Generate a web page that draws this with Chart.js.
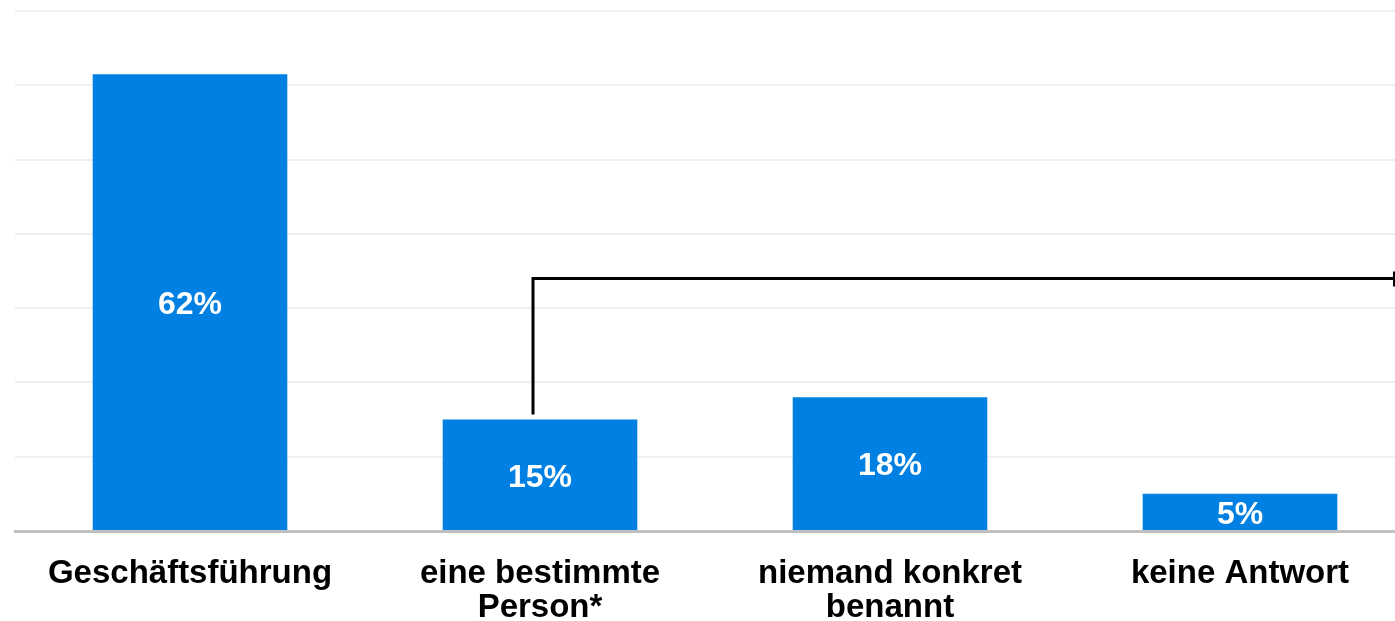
<!DOCTYPE html>
<html lang="de">
<head>
<meta charset="utf-8">
<title>Zuständigkeit</title>
<script src="https://cdn.jsdelivr.net/npm/chart.js@4.4.0/dist/chart.umd.min.js"></script>
<style>
    html, body { margin: 0; padding: 0; background: #fff; overflow: hidden; }
    #wrap { width: 1420px; height: 621px; position: relative; }
</style>
</head>
<body>
<div id="wrap"><canvas id="chart"></canvas></div>
<script>
// Daten
const categories = [['Geschäftsführung'], ['eine bestimmte', 'Person*'], ['niemand konkret', 'benannt'], ['keine Antwort']];
const shares = [61.5, 15, 18, 5];
const valueLabels = ['62%', '15%', '18%', '5%'];
const connectorLevel = 34;   // Höhe der Verbindungslinie (in %)

const BAR_COLOR = '#0080e2';
const FONT = '"Liberation Sans", Arial, sans-serif';

// Prozentwerte in die Balken schreiben
const valueLabelPlugin = {
    id: 'valueLabels',
    afterDatasetsDraw(chart) {
        const ctx = chart.ctx;
        const meta = chart.getDatasetMeta(0);
        ctx.save();
        ctx.fillStyle = '#fff';
        ctx.font = 'bold 32px ' + FONT;
        ctx.textAlign = 'center';
        ctx.textBaseline = 'middle';
        meta.data.forEach((bar, i) => {
            const mid = (bar.y + bar.base) / 2;
            ctx.fillText(valueLabels[i], bar.x, mid + 3);
        });
        ctx.restore();
    }
};

// Verbindungslinie vom zweiten Balken nach rechts
const connectorPlugin = {
    id: 'connector',
    afterDatasetsDraw(chart) {
        const ctx = chart.ctx;
        const bar = chart.getDatasetMeta(0).data[1];
        const y = chart.scales.y.getPixelForValue(connectorLevel);
        const x = bar.x - 7;
        const right = 1394;
        ctx.save();
        ctx.strokeStyle = '#000';
        ctx.lineWidth = 3;
        ctx.beginPath();
        ctx.moveTo(x, bar.y - 5);
        ctx.lineTo(x, y);
        ctx.lineTo(right, y);
        ctx.stroke();
        ctx.beginPath();
        ctx.lineWidth = 2;
        ctx.moveTo(right, y - 7);
        ctx.lineTo(right, y + 8);
        ctx.stroke();
        ctx.restore();
    }
};

new Chart(document.getElementById('chart'), {
    type: 'bar',
    data: {
        labels: categories,
        datasets: [{
            data: shares,
            backgroundColor: BAR_COLOR,
            borderWidth: 0,
            categoryPercentage: 1,
            barPercentage: 0.556
        }]
    },
    options: {
        responsive: true,
        maintainAspectRatio: false,
        animation: false,
        layout: { padding: { left: 15, right: 5, top: 11, bottom: 0 } },
        plugins: {
            legend: { display: false },
            tooltip: { enabled: false }
        },
        scales: {
            x: {
                grid: { display: false, drawTicks: false },
                border: { color: '#c0c0c0', width: 3 },
                ticks: {
                    color: '#000',
                    font: { family: FONT, size: 33, weight: 'bold', lineHeight: 1.03 },
                    padding: 26,
                    maxRotation: 0,
                    autoSkip: false
                },
                afterFit(scale) { scale.height = 90; }
            },
            y: {
                min: 0,
                max: 70,
                ticks: { display: false, stepSize: 10 },
                grid: { color: '#efefef', lineWidth: 2, drawTicks: false },
                border: { display: false },
                afterFit(scale) { scale.width = 0; }
            }
        }
    },
    plugins: [valueLabelPlugin, connectorPlugin]
});
</script>
</body>
</html>
